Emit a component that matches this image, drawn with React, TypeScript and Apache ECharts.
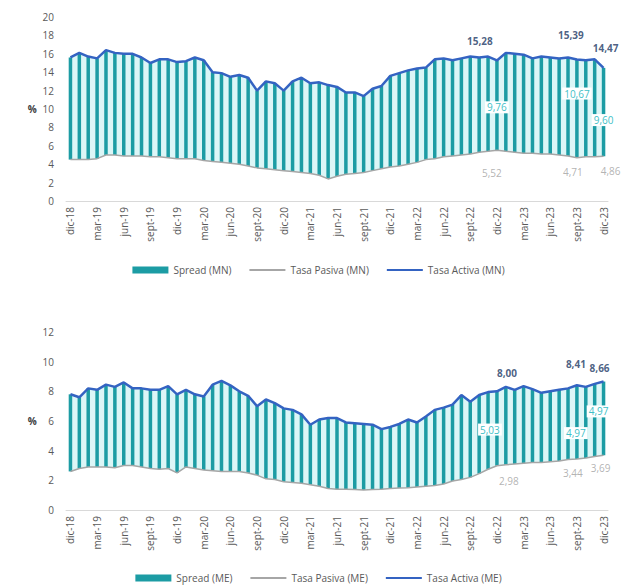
import React, { useEffect, useRef } from "react";
import * as echarts from "echarts";

const MONTHS = ["ene", "feb", "mar", "abr", "may", "jun", "jul", "ago", "sept", "oct", "nov", "dic"];
const YEARS = ["19", "20", "21", "22", "23"];
const categories: string[] = ["dic-18", ...YEARS.flatMap((y) => MONTHS.map((m) => `${m}-${y}`))];

// Moneda nacional (MN)
const mnActiva = [
  15.6, 16.1, 15.7, 15.5, 16.4, 16.1, 16.0, 16.0, 15.6, 15.0, 15.4, 15.4, 15.1,
  15.2, 15.6, 15.3, 14.0, 13.9, 13.5, 13.7, 13.4, 12.0, 13.0, 12.8, 12.0, 13.0,
  13.4, 12.8, 12.9, 12.6, 12.4, 11.8, 11.8, 11.4, 12.2, 12.5, 13.6, 13.9, 14.2,
  14.4, 14.5, 15.4, 15.5, 15.3, 15.5, 15.7, 15.6, 15.7, 15.28, 16.1, 16.0, 15.9,
  15.5, 15.7, 15.6, 15.5, 15.6, 15.39, 15.3, 15.4, 14.47,
];
const mnPasiva = [
  4.5, 4.5, 4.5, 4.6, 5.0, 5.0, 4.9, 4.9, 4.9, 4.8, 4.8, 4.7, 4.6, 4.6, 4.6,
  4.4, 4.3, 4.2, 4.1, 4.0, 3.8, 3.6, 3.5, 3.4, 3.3, 3.2, 3.1, 3.0, 2.8, 2.4,
  2.7, 2.9, 3.0, 3.1, 3.3, 3.5, 3.7, 3.8, 4.0, 4.2, 4.5, 4.6, 4.8, 4.9, 5.0,
  5.1, 5.3, 5.4, 5.52, 5.4, 5.3, 5.2, 5.2, 5.1, 5.1, 5.0, 4.9, 4.71, 4.8, 4.8, 4.86,
];
// Moneda extranjera (ME)
const meActiva = [
  7.8, 7.6, 8.2, 8.1, 8.45, 8.3, 8.6, 8.2, 8.2, 8.1, 8.1, 8.35, 7.8, 8.1, 7.8,
  7.65, 8.45, 8.7, 8.4, 8.0, 7.7, 7.0, 7.45, 7.2, 6.85, 6.75, 6.45, 5.75, 6.1,
  6.2, 6.2, 5.9, 5.85, 5.8, 5.75, 5.45, 5.6, 5.8, 6.1, 5.9, 6.3, 6.75, 6.9, 7.1,
  7.75, 7.3, 7.75, 7.95, 8.0, 8.3, 8.1, 8.35, 8.15, 7.9, 8.0, 8.1, 8.2, 8.41,
  8.3, 8.5, 8.66,
];
const mePasiva = [
  2.6, 2.8, 2.9, 2.9, 2.9, 2.85, 3.0, 3.0, 2.9, 2.8, 2.75, 2.8, 2.5, 2.9, 2.8,
  2.7, 2.65, 2.6, 2.6, 2.6, 2.5, 2.35, 2.1, 2.05, 1.9, 1.85, 1.8, 1.7, 1.6, 1.45,
  1.4, 1.4, 1.38, 1.35, 1.38, 1.4, 1.45, 1.48, 1.5, 1.55, 1.6, 1.65, 1.75, 1.95,
  2.05, 2.2, 2.45, 2.75, 2.98, 3.05, 3.1, 3.15, 3.2, 3.2, 3.25, 3.3, 3.4, 3.44,
  3.5, 3.6, 3.69,
];

type Lbl = { i: number; text: string };
const mnActivaLabels: Lbl[] = [{ i: 48, text: "15,28" }, { i: 57, text: "15,39" }, { i: 60, text: "14,47" }];
const mnSpreadLabels: Lbl[] = [{ i: 48, text: "9,76" }, { i: 57, text: "10,67" }, { i: 60, text: "9,60" }];
const mnPasivaLabels: Lbl[] = [{ i: 48, text: "5,52" }, { i: 57, text: "4,71" }, { i: 60, text: "4,86" }];
const meActivaLabels: Lbl[] = [{ i: 48, text: "8,00" }, { i: 57, text: "8,41" }, { i: 60, text: "8,66" }];
const meSpreadLabels: Lbl[] = [{ i: 48, text: "5,03" }, { i: 57, text: "4,97" }, { i: 60, text: "4,97" }];
const mePasivaLabels: Lbl[] = [{ i: 48, text: "2,98" }, { i: 57, text: "3,44" }, { i: 60, text: "3,69" }];

const FONT = "Open Sans";
const TEAL = "#1c9ca4";
const LIGHT = "#dcf6f7";
const BLUE = "#3463c2";
const GRAY = "#a6a6a6";
const LINE_ICON = "path://M0,0L40,0L40,2L0,2Z";

const withLabels = (values: number[], labels: Lbl[], base: any, offsets: number[][]) =>
  values.map((v, k) => {
    const li = labels.findIndex((l) => l.i === k);
    if (li < 0) return v;
    return { value: v, label: { ...base, show: true, formatter: labels[li].text, offset: offsets[li] } };
  });

const labelSeries = (idx: number, values: number[], labels: Lbl[], base: any, offsets: number[][]) => ({
  type: "scatter", name: "_lbl" + idx, xAxisIndex: idx, yAxisIndex: idx, symbolSize: 0, silent: true, z: 6,
  itemStyle: { color: "transparent" },
  data: labels.map((l, k) => ({
    value: [l.i, values[l.i]],
    label: { ...base, show: true, formatter: l.text, offset: offsets[k] },
  })),
});

function panel(
  idx: number,
  suffix: string,
  activa: number[],
  pasiva: number[],
  aL: Lbl[],
  sL: Lbl[],
  pL: Lbl[],
  off: { a: number[][]; s: number[][]; p: number[][] }
) {
  const spread = activa.map((v, k) => Math.round((v - pasiva[k]) * 100) / 100);
  const stackB = "bar" + idx;
  const stackA = "area" + idx;
  return [
    {
      type: "bar", name: "_base" + idx, stack: stackB, xAxisIndex: idx, yAxisIndex: idx,
      data: pasiva, itemStyle: { color: "transparent" }, silent: true, barWidth: 3.5, z: 2,
    },
    {
      type: "bar", name: `Spread (${suffix})`, stack: stackB, xAxisIndex: idx, yAxisIndex: idx,
      barWidth: 3.5, itemStyle: { color: TEAL }, z: 2,
      data: withLabels(spread, sL, {
        position: "inside", color: "#3fbfc7", backgroundColor: "#ffffff", padding: [1, 2],
        fontFamily: FONT, fontSize: 10,
      }, off.s),
    },
    {
      type: "line", name: "_abase" + idx, stack: stackA, xAxisIndex: idx, yAxisIndex: idx,
      data: pasiva, symbol: "none", lineStyle: { opacity: 0 }, silent: true, z: 1,
    },
    {
      type: "line", name: "_area" + idx, stack: stackA, xAxisIndex: idx, yAxisIndex: idx,
      data: spread, symbol: "none", lineStyle: { opacity: 0 }, areaStyle: { color: LIGHT, opacity: 1 },
      silent: true, z: 1,
    },
    {
      type: "line", name: `Tasa Pasiva (${suffix})`, xAxisIndex: idx, yAxisIndex: idx,
      symbol: "none", lineStyle: { color: GRAY, width: 1.5 }, itemStyle: { color: GRAY }, z: 3,
      data: pasiva,
    },
    {
      type: "line", name: `Tasa Activa (${suffix})`, xAxisIndex: idx, yAxisIndex: idx,
      symbol: "none", lineStyle: { color: BLUE, width: 2.5 }, itemStyle: { color: BLUE }, z: 4,
      data: activa,
    },
    labelSeries(idx, pasiva, pL, {
      position: "bottom", distance: 5, color: "#a0a0a0", fontFamily: FONT, fontSize: 10,
    }, off.p),
    labelSeries(idx, activa, aL, {
      position: "top", distance: 5, color: "#203864", fontFamily: FONT, fontSize: 10, fontWeight: "bold",
    }, off.a),
  ];
}

const xAxisCfg = (gridIndex: number) => ({
  type: "category", gridIndex, data: categories, boundaryGap: true,
  axisTick: { show: false },
  axisLine: { lineStyle: { color: "#d9d9d9", width: 1 } },
  axisLabel: { rotate: 90, interval: 2, fontSize: 10, color: "#595959", fontFamily: FONT, margin: 6 },
  splitLine: { show: false },
});
const yAxisCfg = (gridIndex: number, max: number) => ({
  type: "value", gridIndex, min: 0, max, interval: 2,
  name: "%", nameLocation: "middle", nameRotate: 0, nameGap: 26,
  nameTextStyle: { fontWeight: "bold", color: "#404040", fontFamily: FONT, fontSize: 10 },
  axisLine: { show: false }, axisTick: { show: false }, splitLine: { show: false },
  axisLabel: { fontSize: 10, color: "#595959", fontFamily: FONT, margin: 12 },
});
const legendCfg = (suffix: string, top: number) => ({
  top, left: "center", itemWidth: 36, itemHeight: 7, itemGap: 18,
  textStyle: { fontSize: 10, color: "#595959", fontFamily: FONT },
  data: [
    { name: `Spread (${suffix})`, icon: "rect", itemStyle: { color: TEAL } },
    { name: `Tasa Pasiva (${suffix})`, icon: LINE_ICON, itemStyle: { color: GRAY } },
    { name: `Tasa Activa (${suffix})`, icon: LINE_ICON, itemStyle: { color: BLUE } },
  ],
});

export default function App() {
  const ref = useRef<HTMLDivElement>(null);
  useEffect(() => {
    if (!ref.current) return;
    const chart = echarts.init(ref.current, undefined, { renderer: "svg" });
    chart.setOption({
      animation: false,
      backgroundColor: "#ffffff",
      grid: [
        { left: 66, right: 29, top: 17, height: 184 },
        { left: 66, right: 29, top: 332, height: 178 },
      ],
      xAxis: [xAxisCfg(0), xAxisCfg(1)],
      yAxis: [yAxisCfg(0, 20), yAxisCfg(1, 12)],
      legend: [legendCfg("MN", 260), legendCfg("ME", 568)],
      series: [
        ...panel(0, "MN", mnActiva, mnPasiva, mnActivaLabels, mnSpreadLabels, mnPasivaLabels, {
          a: [[-17, -9], [-6, -14], [2, -10]],
          s: [[0, 2], [0, -15], [0, 8]],
          p: [[-5, 13], [-4, 4], [7, 5]],
        }),
        ...panel(1, "ME", meActiva, mePasiva, meActivaLabels, meSpreadLabels, mePasivaLabels, {
          a: [[10, -8], [-1, -11], [-4, -4]],
          s: [[-7, 1], [-1, 11], [-5, -7]],
          p: [[12, 5], [-4, 4], [-3, 3]],
        }),
      ],
    });
    return () => chart.dispose();
  }, []);
  return (
    <div
      ref={ref}
      style={{ position: "absolute", left: 0, top: 0, width: 637, height: 587, background: "#fff" }}
    />
  );
}
